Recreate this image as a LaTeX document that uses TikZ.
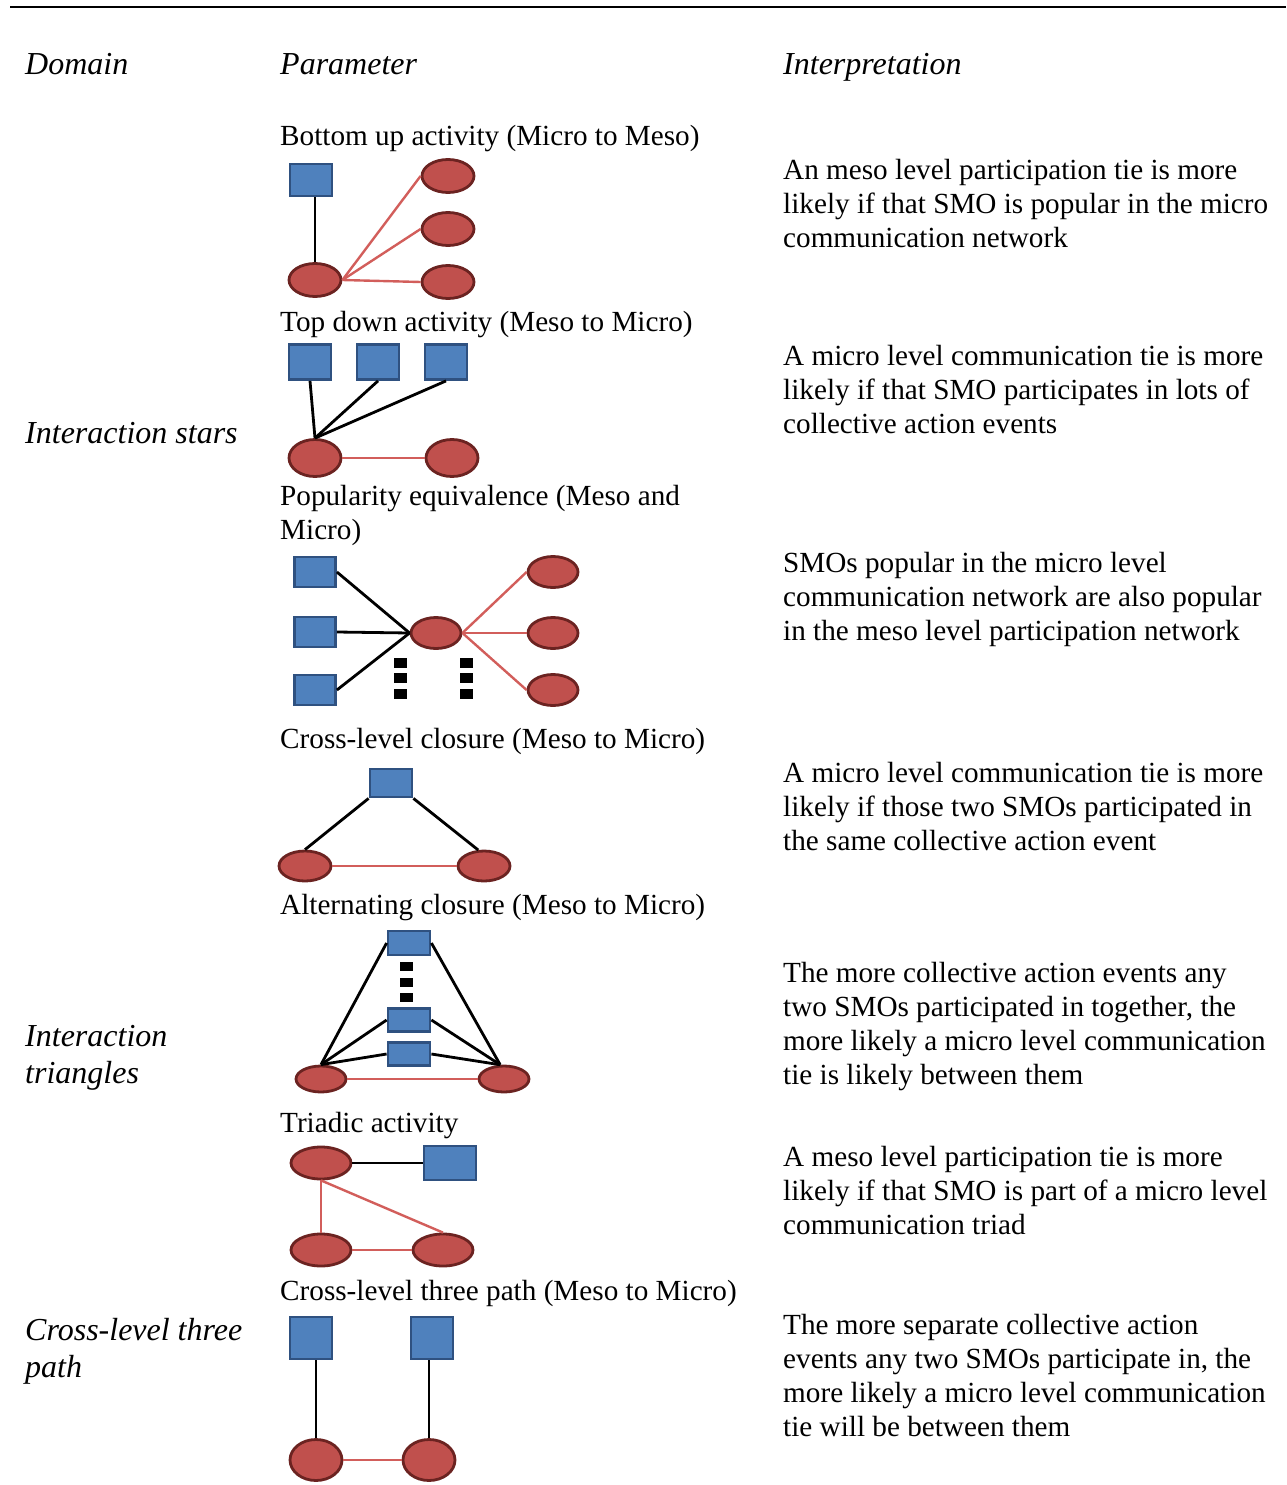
\documentclass[tikz,border=0pt]{standalone}
\usepackage{fontspec}
\setmainfont{Liberation Serif}
\usepackage{tikz}
\usetikzlibrary{positioning,shapes.geometric}

\definecolor{smofill}{HTML}{C0504D}
\definecolor{smoline}{HTML}{6B2321}
\definecolor{evfill}{HTML}{4F81BD}
\definecolor{evline}{HTML}{2F5180}
\definecolor{redtie}{HTML}{D25E5B}

\newcommand{\txtsize}{\fontsize{29.2}{34}\selectfont}
\newcommand{\itsize}{\fontsize{32}{37}\selectfont\itshape}

\tikzset{
	smo/.style={draw=smoline, fill=smofill, ellipse, line width=2.8pt, inner sep=0pt, minimum width=52pt, minimum height=33pt},
	event/.style={draw=evline, fill=evfill, rectangle, line width=2.8pt, inner sep=0pt, minimum width=42pt, minimum height=32pt},
	micro/.style={draw=redtie, line width=2.4pt},
	meso/.style={draw=black, line width=2.8pt},
	dotbox/.style={fill=black, inner sep=0pt, minimum width=13pt, minimum height=10pt},
	txt/.style={anchor=base west, inner sep=0pt, align=left, font=\txtsize},
	hdr/.style={txt, font=\itsize},
}

\begin{document}
\begin{tikzpicture}[x=1pt, y=-1pt]
		\useasboundingbox (0,0) rectangle (1286,1485);
		\draw[line width=2pt] (10,7) -- (1286,7);
		
		% multi-line nodes sit on the baseline of their last line
		\node[hdr] (dom) at (25,75) {Domain};
		\node[hdr] (par) at (280,75) {Parameter};
		\node[hdr] (int) at (783,75) {Interpretation};
		
		\node[hdr] (stars) at (25,443) {Interaction stars};
		\node[hdr] (tri) at (25,1083) {Interaction\\triangles};
		\node[hdr] (path) at (25,1377) {Cross-level three\\path};
		
		\node[txt] (p1) at (280,146) {Bottom up activity (Micro to Meso)};
		\node[txt] (p2) at (280,331) {Top down activity (Meso to Micro)};
		\node[txt] (p3) at (280,539) {Popularity equivalence (Meso and\\Micro)};
		\node[txt] (p4) at (280,748) {Cross-level closure (Meso to Micro)};
		\node[txt] (p5) at (280,914) {Alternating closure (Meso to Micro)};
		\node[txt] (p6) at (280,1132) {Triadic activity};
		\node[txt] (p7) at (280,1300) {Cross-level three path (Meso to Micro)};
		
		\node[txt] (i1) at (783,247) {An meso level participation tie is more\\likely if that SMO is popular in the micro\\communication network};
		\node[txt] (i2) at (783,433) {A micro level communication tie is more\\likely if that SMO participates in lots of\\collective action events};
		\node[txt] (i3) at (783,640) {SMOs popular in the micro level\\communication network are also popular\\in the meso level participation network};
		\node[txt] (i4) at (783,850) {A micro level communication tie is more\\likely if those two SMOs participated in\\the same collective action event};
		\node[txt] (i5) at (783,1084) {The more collective action events any\\two SMOs participated in together, the\\more likely a micro level communication\\tie is likely between them};
		\node[txt] (i6) at (783,1234) {A meso level participation tie is more\\likely if that SMO is part of a micro level\\communication triad};
		\node[txt] (i7) at (783,1436) {The more separate collective action\\events any two SMOs participate in, the\\more likely a micro level communication\\tie will be between them};
		
		% bottom up
		\node[event] (buE) at (311,180) {};
		\node[smo] (buS) at (315,280) {};
		\node[smo] (buA) at (448,176) {};
		\node[smo] (buB) at (448,229) {};
		\node[smo] (buC) at (448,282) {};
		\draw[meso] (buS.north) -- (buS.north |- buE.south);
		\draw[micro] (buS.east) -- (buA.west);
		\draw[micro] (buS.east) -- (buB.west);
		\draw[micro] (buS.east) -- (buC.west);
		
		% top down
		\node[event, minimum height=35pt] (tdE1) at (310,362) {};
		\node[event, minimum height=35pt] (tdE2) at (378,362) {};
		\node[event, minimum height=35pt] (tdE3) at (446,362) {};
		\node[smo, minimum height=37pt] (tdS1) at (315,458) {};
		\node[smo, minimum height=37pt] (tdS2) at (452,458) {};
		\draw[meso] (tdE1.south) -- (tdS1.north);
		\draw[meso] (tdE2.south) -- (tdS1.north);
		\draw[meso] (tdE3.south) -- (tdS1.north);
		\draw[micro] (tdS1) -- (tdS2);
		
		% popularity equivalence
		\node[event, minimum width=41pt, minimum height=30pt] (peE1) at (315,572) {};
		\node[event, minimum width=41pt, minimum height=30pt] (peE2) at (315,632) {};
		\node[event, minimum width=41pt, minimum height=30pt] (peE3) at (315,690) {};
		\node[smo, minimum width=50pt, minimum height=31pt] (peS) at (436,633) {};
		\node[smo, minimum width=50pt, minimum height=31pt] (peA) at (553,572) {};
		\node[smo, minimum width=50pt, minimum height=31pt] (peB) at (553,633) {};
		\node[smo, minimum width=50pt, minimum height=31pt] (peC) at (553,690) {};
		\foreach \y [count=\i] in {663,678,694} {
			\node[dotbox] (peL\i) at (400,\y) {};
			\node[dotbox] (peR\i) at (466,\y) {};
		}
		\draw[meso] (peE1.east) -- (peS.west);
		\draw[meso] (peE2.east) -- (peS.west);
		\draw[meso] (peE3.east) -- (peS.west);
		\draw[micro] (peS.east) -- (peA.west);
		\draw[micro] (peS.east) -- (peB.west);
		\draw[micro] (peS.east) -- (peC.west);
		
		% cross-level closure
		\node[event, minimum height=28pt] (clE) at (391,783) {};
		\node[smo, minimum height=30pt] (clS1) at (305,866) {};
		\node[smo, minimum height=30pt] (clS2) at (484,866) {};
		\draw[meso] (clE.south west) -- (clS1.north);
		\draw[meso] (clE.south east) -- (clS2.110);
		\draw[micro] (clS1) -- (clS2);
		
		% alternating closure
		\node[event, minimum height=24pt] (acE1) at (409,943) {};
		\node[event, minimum height=23pt] (acE2) at (409,1020) {};
		\node[event, minimum height=23pt] (acE3) at (409,1054) {};
		\foreach \y [count=\i] in {966,982,997} {
			\node[dotbox, minimum height=9pt] (acD\i) at (406,\y) {};
		}
		\node[smo, minimum width=50pt, minimum height=26pt] (acS1) at (321,1079) {};
		\node[smo, minimum width=50pt, minimum height=26pt] (acS2) at (504,1079) {};
		\draw[meso] (acS1.north) -- (acE1.west);
		\draw[meso] (acS1.north) -- (acE2.west);
		\draw[meso] (acS1.north) -- (acE3.west);
		\draw[meso] (acS2.105) -- (acE1.east);
		\draw[meso] (acS2.105) -- (acE2.east);
		\draw[meso] (acS2.105) -- (acE3.east);
		\draw[micro] (acS1) -- (acS2);
		
		% triadic activity
		\node[smo, minimum width=60pt, minimum height=32pt] (taS1) at (321,1163) {};
		\node[event, minimum width=52pt, minimum height=34pt] (taE) at (450,1163) {};
		\node[smo, minimum width=60pt, minimum height=32pt] (taS2) at (321,1250) {};
		\node[smo, minimum width=60pt, minimum height=32pt] (taS3) at (443,1250) {};
		\draw[meso] (taS1) -- (taE);
		\draw[micro] (taS1.south) -- (taS2.north);
		\draw[micro] (taS1.south) -- (taS3.north);
		\draw[micro] (taS2) -- (taS3);
		
		% cross-level three path
		\node[event, minimum height=42pt] (tpE1) at (311,1338) {};
		\node[event, minimum height=42pt] (tpE2) at (432,1338) {};
		\node[smo, minimum height=41pt] (tpS1) at (316,1460) {};
		\node[smo, minimum height=41pt] (tpS2) at (429,1460) {};
		\draw[meso] (tpS1.north) -- (tpS1.north |- tpE1.south);
		\draw[meso] (tpS2.north) -- (tpS2.north |- tpE2.south);
		\draw[micro] (tpS1) -- (tpS2);
	\end{tikzpicture}
\end{document}
